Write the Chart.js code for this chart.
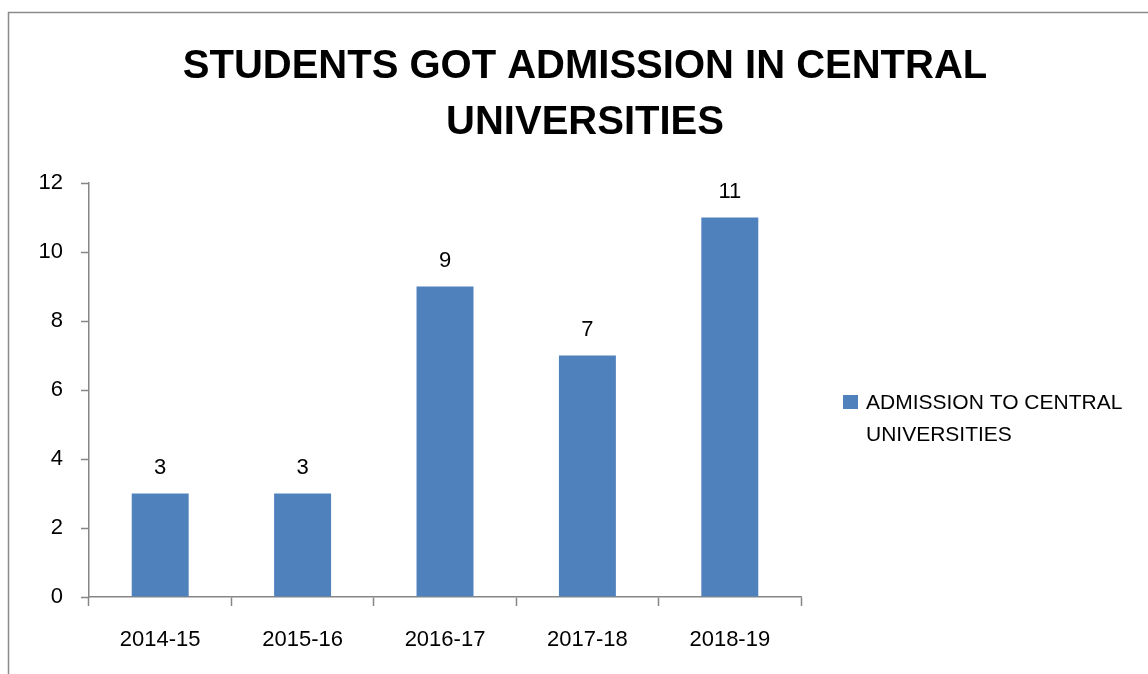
<!DOCTYPE html>
<html>
<head>
<meta charset="utf-8">
<script src="https://cdn.jsdelivr.net/npm/chart.js@4"></script>
<style>
  html, body { margin: 0; padding: 0; background: #fff; }
  #wrap { width: 1148px; height: 674px; position: relative; }
</style>
</head>
<body>
<div id="wrap"><canvas id="c" width="1148" height="674"></canvas></div>
<script>
const categories = ['2014-15', '2015-16', '2016-17', '2017-18', '2018-19'];
const admissions = [3, 3, 9, 7, 11];
const seriesLabel = 'ADMISSION TO CENTRAL UNIVERSITIES';
const legendLines = ['ADMISSION TO CENTRAL', 'UNIVERSITIES'];
const titleLines = ['STUDENTS GOT ADMISSION IN CENTRAL', 'UNIVERSITIES'];
const yMin = 0, yMax = 12, yStep = 2;

const FONT = '"Liberation Sans", Arial, sans-serif';
const BAR = '#4F81BD';
const AXIS = '#868686';

const decor = {
  id: 'decor',
  beforeDraw(chart) {
    const ctx = chart.ctx;
    ctx.save();
    ctx.fillStyle = '#fff';
    ctx.fillRect(0, 0, chart.width, chart.height);
    ctx.strokeStyle = '#8a8a8a';
    ctx.lineWidth = 1.5;
    ctx.beginPath();
    ctx.moveTo(8.5, chart.height);
    ctx.lineTo(8.5, 12.5);
    ctx.lineTo(chart.width, 12.5);
    ctx.stroke();
    ctx.restore();
  },
  afterDraw(chart) {
    const ctx = chart.ctx;
    ctx.save();
    // Title
    ctx.fillStyle = '#000';
    ctx.font = 'bold 40px ' + FONT;
    ctx.textAlign = 'center';
    ctx.textBaseline = 'alphabetic';
    titleLines.forEach((t, i) => ctx.fillText(t, 585, 78 + i * 56));
    // Data labels
    const meta = chart.getDatasetMeta(0);
    ctx.font = '22px ' + FONT;
    meta.data.forEach((bar, i) => {
      ctx.fillText(String(chart.data.datasets[0].data[i]), bar.x, bar.y - 20);
    });
    // Legend
    ctx.fillStyle = chart.data.datasets[0].backgroundColor;
    ctx.fillRect(843, 395, 15, 14);
    ctx.fillStyle = '#000';
    ctx.textAlign = 'left';
    ctx.font = '21px ' + FONT;
    legendLines.forEach((t, i) => ctx.fillText(t, 866, 409 + i * 32));
    ctx.restore();
  }
};

new Chart(document.getElementById('c'), {
  type: 'bar',
  data: {
    labels: categories,
    datasets: [{
      label: seriesLabel,
      data: admissions,
      backgroundColor: BAR,
      borderWidth: 0,
      barPercentage: 0.4,
      categoryPercentage: 1.0
    }]
  },
  options: {
    responsive: false,
    animation: false,
    devicePixelRatio: 1,
    layout: { padding: { left: 0, right: 347, top: 183, bottom: 0 } },
    plugins: {
      legend: { display: false },
      title: { display: false },
      tooltip: { enabled: false }
    },
    scales: {
      x: {
        offset: true,
        afterFit(s) { s.height = 77; },
        grid: {
          display: true,
          offset: true,
          drawOnChartArea: false,
          drawTicks: true,
          tickLength: 9,
          tickColor: AXIS,
          tickWidth: 1.5
        },
        border: { display: true, color: AXIS, width: 1.5 },
        ticks: { color: '#000', font: { family: FONT, size: 22 }, padding: 21 }
      },
      y: {
        min: yMin,
        max: yMax,
        afterFit(s) { s.width = 89; },
        grid: {
          display: true,
          drawOnChartArea: false,
          drawTicks: true,
          tickLength: 8,
          tickColor: AXIS,
          tickWidth: 1.5
        },
        border: { display: true, color: AXIS, width: 1.5 },
        ticks: { stepSize: yStep, color: '#000', font: { family: FONT, size: 22 }, padding: 18 }
      }
    }
  },
  plugins: [decor]
});
</script>
</body>
</html>
